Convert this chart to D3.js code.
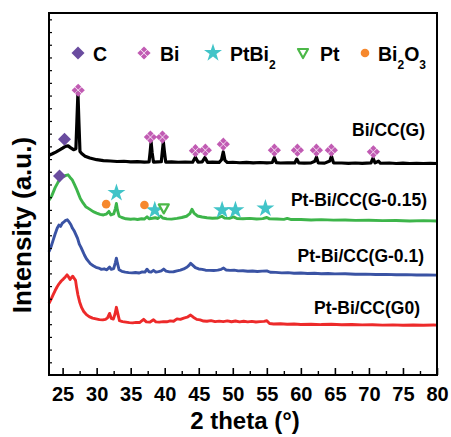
<!DOCTYPE html>
<html>
<head>
<meta charset="utf-8">
<script src="https://cdn.jsdelivr.net/npm/d3@7"></script>
<style>
  body { margin: 0; background: #fff; }
  svg text { font-family: Arial, "Liberation Sans", sans-serif; font-weight: bold; }
</style>
</head>
<body>
<svg id="xrd" width="451" height="437"></svg>
<script>
// 2 theta (deg) vs stacked intensity (a.u.)
const bicc = [
  [23.0, 173.0], [23.5, 174.2], [24.0, 175.5], [24.5, 177.0], [25.0, 178.6], [25.4, 180.0], [25.8, 180.4],
  [26.2, 178.8], [26.6, 177.4], [26.95, 178.2], [27.1, 200], [27.25, 222.0], [27.4, 198], [27.55, 176.0],
  [27.8, 174.4], [28.3, 172.3], [29.0, 170.8], [30.0, 169.5], [31.0, 168.8], [32.0, 168.5], [33.0, 168.1],
  [34.0, 168.3], [35.0, 167.8], [36.0, 168.0], [37.0, 167.6], [37.7, 167.8], [37.85, 175], [38.0, 183.6],
  [38.15, 175], [38.35, 167.6], [39.0, 167.8], [39.5, 167.9], [39.65, 176], [39.8, 183.6], [39.95, 176],
  [40.15, 167.6], [41.0, 167.8], [42.0, 167.5], [43.0, 167.7], [44.1, 167.5], [44.5, 171.5], [44.9, 167.6],
  [45.5, 167.8], [45.9, 171.2], [46.3, 167.4], [47.0, 167.6], [48.0, 167.4], [48.35, 169.5], [48.6, 175.7],
  [48.85, 169.0], [49.2, 167.3], [50.0, 167.5], [51.0, 167.1], [52.0, 167.4], [53.0, 167.0], [54.0, 167.3],
  [55.0, 167.0], [55.8, 167.3], [56.1, 171.2], [56.4, 167.2], [57.0, 166.9], [58.0, 167.1], [59.1, 167.0],
  [59.4, 170.0], [59.7, 167.0], [60.5, 166.8], [61.5, 167.0], [62.05, 168.3], [62.3, 171.5], [62.55, 167.0],
  [63.5, 166.8], [64.25, 168.5], [64.5, 172.3], [64.8, 167.0], [66.0, 166.9], [67.0, 166.6], [68.0, 166.9],
  [69.0, 166.6], [70.3, 167.0], [70.6, 170.8], [70.9, 167.0], [71.4, 168.3], [71.7, 166.7], [73.0, 166.9],
  [74.0, 166.5], [75.0, 166.8], [76.0, 166.5], [77.0, 166.7], [78.0, 166.5], [79.0, 166.7], [80.0, 166.5]
];
const ptbi015 = [
  [23.0, 137.5], [23.4, 141.0], [23.9, 147.5], [24.3, 151.5], [24.7, 155.0], [25.1, 156.2], [25.5, 157.2],
  [25.8, 157.6], [26.1, 155.5], [26.4, 153.8], [26.7, 150.5], [27.0, 147.0], [27.3, 143.0], [27.6, 139.0],
  [28.0, 135.5], [28.4, 132.5], [28.9, 130.8], [29.5, 128.6], [30.0, 127.5], [30.5, 126.5], [31.0, 126.0],
  [31.4, 126.6], [31.8, 128.8], [32.1, 126.0], [32.5, 126.8], [32.75, 131.0], [32.9, 135.0], [33.05, 130.0],
  [33.3, 125.0], [33.7, 124.0], [34.3, 123.0], [35.0, 122.6], [35.5, 122.9], [36.0, 122.4], [36.6, 123.0],
  [37.0, 122.8], [37.4, 124.6], [37.7, 123.0], [38.2, 123.4], [38.6, 123.8], [39.0, 123.2], [39.4, 125.2],
  [39.7, 123.6], [40.3, 122.9], [41.0, 122.7], [41.8, 123.3], [42.5, 124.0], [43.2, 125.0], [43.7, 127.0],
  [44.0, 130.5], [44.3, 127.5], [44.8, 125.2], [45.5, 124.4], [46.2, 123.8], [47.0, 123.4], [47.8, 123.6],
  [48.4, 125.0], [48.8, 123.5], [49.5, 123.3], [50.1, 124.5], [50.6, 123.2], [51.5, 123.0], [52.5, 123.3],
  [53.5, 122.8], [54.4, 123.1], [55.0, 124.0], [55.4, 122.9], [56.5, 122.8], [57.5, 122.5], [58.0, 123.3],
  [58.6, 122.4], [60.0, 122.4], [61.5, 122.0], [63.0, 122.3], [64.8, 121.9], [66.5, 122.0], [68.0, 121.7],
  [70.0, 121.8], [72.0, 121.5], [74.0, 121.6], [76.0, 121.3], [78.0, 121.5], [80.0, 121.2]
];
const ptbi01 = [
  [23.0, 97.0], [23.3, 101.0], [23.6, 106.0], [23.9, 111.0], [24.2, 115.5], [24.45, 118.0], [24.7, 117.0],
  [24.95, 119.5], [25.2, 120.5], [25.45, 121.8], [25.7, 122.2], [25.95, 120.5], [26.2, 118.5], [26.45, 115.5],
  [26.7, 113.5], [26.95, 110.5], [27.2, 107.5], [27.45, 103.0], [27.7, 100.5], [27.95, 97.5], [28.2, 94.5],
  [28.5, 91.5], [28.8, 89.5], [29.1, 87.5], [29.5, 86.0], [29.9, 84.8], [30.3, 84.2], [30.7, 83.2],
  [31.1, 83.6], [31.5, 82.8], [31.9, 85.0], [32.15, 83.2], [32.5, 83.8], [32.75, 88.5], [32.9, 92.0],
  [33.05, 88.0], [33.3, 82.8], [33.7, 81.6], [34.2, 81.0], [34.7, 80.6], [35.2, 80.4], [35.7, 80.7],
  [36.2, 80.3], [36.7, 81.2], [37.1, 81.0], [37.4, 83.3], [37.7, 81.3], [38.0, 81.0], [38.35, 82.4],
  [38.7, 81.0], [39.1, 81.4], [39.5, 82.0], [39.85, 83.4], [40.2, 81.8], [40.7, 81.2], [41.3, 81.3],
  [41.8, 82.0], [42.3, 82.6], [42.8, 83.5], [43.3, 85.0], [43.6, 86.5], [43.8, 88.0], [44.1, 86.5],
  [44.5, 84.5], [45.0, 83.5], [45.5, 83.2], [46.0, 82.5], [46.6, 82.4], [47.2, 82.3], [47.8, 82.6],
  [48.3, 83.2], [48.65, 84.2], [49.0, 82.7], [49.6, 82.4], [50.2, 82.6], [50.8, 82.0], [51.5, 82.1],
  [52.2, 81.7], [52.9, 81.9], [53.6, 81.5], [54.3, 81.8], [55.0, 81.9], [55.5, 80.9], [56.3, 80.8],
  [57.2, 80.4], [58.1, 80.6], [59.0, 80.1], [60.0, 80.3], [61.0, 79.9], [62.0, 80.1], [63.0, 79.7],
  [64.0, 79.9], [65.0, 79.6], [66.5, 79.7], [68.0, 79.3], [69.5, 79.4], [71.0, 79.1], [72.5, 79.2],
  [74.0, 78.9], [75.5, 79.0], [77.0, 78.7], [78.5, 78.8], [80.0, 78.6]
];
const ptbi0 = [
  [23.0, 56.4], [23.3, 59.5], [23.6, 63.0], [23.9, 66.5], [24.2, 69.5], [24.5, 72.0], [24.8, 74.0],
  [25.1, 75.5], [25.4, 77.2], [25.65, 78.8], [25.9, 77.0], [26.1, 75.2], [26.3, 76.8], [26.5, 77.8],
  [26.7, 76.0], [26.9, 74.5], [27.05, 69.0], [27.25, 63.0], [27.5, 57.5], [27.8, 53.0], [28.1, 50.0],
  [28.5, 47.5], [28.9, 46.0], [29.4, 44.8], [29.9, 44.2], [30.4, 43.6], [30.9, 43.4], [31.3, 43.8],
  [31.6, 45.0], [31.9, 48.5], [32.15, 44.5], [32.45, 44.0], [32.7, 48.0], [32.9, 53.3], [33.1, 48.5],
  [33.35, 42.8], [33.8, 42.0], [34.3, 41.6], [34.8, 41.2], [35.3, 41.0], [35.8, 41.4], [36.3, 41.3],
  [36.9, 43.8], [37.3, 41.8], [37.8, 41.6], [38.35, 43.5], [38.7, 41.8], [39.2, 41.6], [39.8, 42.0],
  [40.3, 41.9], [40.8, 42.6], [41.3, 42.3], [41.8, 44.2], [42.3, 43.8], [42.8, 44.8], [43.3, 45.5],
  [43.8, 47.2], [44.2, 45.5], [44.7, 43.8], [45.2, 43.4], [45.7, 42.5], [46.2, 42.3], [46.8, 42.8],
  [47.4, 42.0], [48.0, 42.4], [48.6, 42.0], [49.2, 42.6], [49.8, 41.9], [50.4, 42.5], [51.0, 41.8],
  [51.6, 42.3], [52.2, 41.8], [52.8, 42.2], [53.4, 41.7], [54.0, 42.0], [54.6, 42.2], [55.0, 42.7],
  [55.4, 40.5], [56.0, 40.2], [57.0, 40.4], [58.0, 40.0], [59.0, 40.2], [60.0, 39.8], [61.5, 40.0],
  [63.0, 39.7], [64.5, 39.9], [66.0, 39.6], [67.5, 39.8], [69.0, 39.5], [70.5, 39.6], [72.0, 39.3],
  [73.5, 39.5], [75.0, 39.2], [76.5, 39.4], [78.0, 39.2], [79.5, 39.4], [80.0, 39.3]
];

const seriesNames = ["Bi/CC(G)", "Pt-Bi/CC(G-0.15)", "Pt-Bi/CC(G-0.1)", "Pt-Bi/CC(G0)"];
const seriesColors = ["#000000", "#3db54a", "#3a53a4", "#ed2a2a"];

// phase markers [2theta, intensity]
const cMarks = [[25.28, 185.7], [24.54, 156.6]];
const biMarks = [[27.29, 224.2], [37.9, 187.3], [39.67, 187.3], [44.51, 176.6], [45.97, 177.0],
  [48.61, 181.7], [56.11, 177.0], [59.49, 177.0], [62.28, 177.0], [64.48, 177.0], [70.65, 175.7]];
const ptbi2Marks = [[32.91, 143.4], [38.54, 129.8], [48.43, 129.8], [50.39, 129.8], [54.79, 131.2]];
const ptMarks = [[39.86, 131.2]];
const bi2o3Marks = [[31.4, 134.5], [37.02, 133.8]];

const xTicks = [25, 30, 35, 40, 45, 50, 55, 60, 65, 70, 75, 80];
const xMinor = [27.5, 32.5, 37.5, 42.5, 47.5, 52.5, 57.5, 62.5, 67.5, 72.5, 77.5];

const svg = d3.select("#xrd");
const margin = {top: 13, right: 14, bottom: 62, left: 49};
const W = 451, H = 437;

const x = d3.scaleLinear().domain([23, 80]).range([margin.left, W - margin.right]);
const y = d3.scaleLinear().domain([0, 285]).range([H - margin.bottom, margin.top]);

const line = d3.line().x(d => x(d[0])).y(d => y(d[1]));

const plot = svg.append("g");
[bicc, ptbi015, ptbi01, ptbi0].forEach((s, i) => {
  plot.append("path")
    .datum(s)
    .attr("d", line)
    .attr("fill", "none")
    .attr("stroke", seriesColors[i])
    .attr("stroke-width", i === 0 ? 3.2 : 2.9)
    .attr("stroke-linejoin", "round");
});

// series labels
const labelPos = [[425, 136], [427, 206], [424, 262], [420, 314]];
seriesNames.forEach((n, i) => {
  svg.append("text")
    .attr("x", labelPos[i][0]).attr("y", labelPos[i][1])
    .attr("text-anchor", "end")
    .style("font-size", "17.5px")
    .text(n);
});

// marker drawers
function drawC(g) {
  g.append("path").attr("d", "M0,-6.5L6.5,0L0,6.5L-6.5,0Z").attr("fill", "#6a4c9f");
}
function drawBi(g) {
  [[0, -3.5], [3.5, 0], [0, 3.5], [-3.5, 0]].forEach(p => {
    g.append("path")
      .attr("d", `M${p[0]},${p[1] - 3.1}L${p[0] + 3.1},${p[1]}L${p[0]},${p[1] + 3.1}L${p[0] - 3.1},${p[1]}Z`)
      .attr("fill", "#c15bb3");
  });
}
function drawStar(g) {
  g.append("path").attr("d", d3.symbol(d3.symbolStar, 100)()).attr("fill", "#41c4c8");
}
function drawPt(g) {
  g.append("path").attr("d", "M-5,-4L5,-4L0,5Z")
    .attr("fill", "#fff").attr("stroke", "#4cb848").attr("stroke-width", 2.2).attr("stroke-linejoin", "round");
}
function drawDot(g) {
  g.append("circle").attr("r", 4.3).attr("fill", "#f6882d");
}

function placeMarks(data, drawer) {
  data.forEach(d => {
    const g = svg.append("g").attr("transform", `translate(${x(d[0])},${y(d[1])})`);
    drawer(g);
  });
}
placeMarks(cMarks, drawC);
placeMarks(biMarks, drawBi);
placeMarks(ptbi2Marks, drawStar);
placeMarks(ptMarks, drawPt);
placeMarks(bi2o3Marks, drawDot);

// legend
const legend = svg.append("g");
const legendItems = [
  {draw: drawC, mx: 78, tx: 93, parts: [["C", 0]]},
  {draw: drawBi, mx: 144, tx: 160, parts: [["Bi", 0]]},
  {draw: drawStar, mx: 213, tx: 230, parts: [["PtBi", 0], ["2", 1]]},
  {draw: drawPt, mx: 303, tx: 320, parts: [["Pt", 0]]},
  {draw: drawDot, mx: 365, tx: 378, parts: [["Bi", 0], ["2", 1], ["O", 0], ["3", 1]]}
];
legendItems.forEach(it => {
  it.draw(legend.append("g").attr("transform", `translate(${it.mx},53)`));
  const t = legend.append("text").attr("x", it.tx).attr("y", 60.5).style("font-size", "19.5px");
  let down = false;
  it.parts.forEach(p => {
    const sub = p[1] === 1;
    t.append("tspan")
      .attr("dy", sub ? 8 : (down ? -8 : null))
      .style("font-size", sub ? "12px" : null)
      .text(p[0]);
    down = sub;
  });
});

// axes
const xAxis = svg.append("g")
  .attr("transform", `translate(0,${H - margin.bottom})`)
  .call(d3.axisBottom(x).tickValues(xTicks).tickSizeInner(-7).tickSizeOuter(0).tickPadding(12));
xAxis.select(".domain").remove();
xAxis.selectAll(".tick line").attr("stroke-width", 1.6);
xAxis.selectAll("text").style("font-size", "20px").attr("fill", "#000");

const xMin = svg.append("g")
  .attr("transform", `translate(0,${H - margin.bottom})`)
  .call(d3.axisBottom(x).tickValues(xMinor).tickSizeInner(-4).tickSizeOuter(0).tickFormat(""));
xMin.select(".domain").remove();
xMin.selectAll(".tick line").attr("stroke-width", 1.4);

const yAxis = svg.append("g")
  .attr("transform", `translate(${margin.left},0)`)
  .call(d3.axisLeft(y).tickValues(d3.range(10, 285, 10)).tickSizeInner(-3).tickSizeOuter(0).tickFormat(""));
yAxis.select(".domain").remove();
yAxis.selectAll(".tick line").attr("stroke-width", 1.2);

// frame
svg.append("rect")
  .attr("x", margin.left).attr("y", margin.top)
  .attr("width", W - margin.left - margin.right)
  .attr("height", H - margin.top - margin.bottom)
  .attr("fill", "none").attr("stroke", "#000").attr("stroke-width", 2);

// axis titles
svg.append("text")
  .attr("x", 245).attr("y", 429)
  .attr("text-anchor", "middle")
  .style("font-size", "24px")
  .text("2 theta (°)");

svg.append("text")
  .attr("transform", "translate(22,225) rotate(-90)")
  .attr("text-anchor", "middle")
  .attr("dy", "0.36em")
  .style("font-size", "26px")
  .text("Intensity (a.u.)");
</script>
</body>
</html>
